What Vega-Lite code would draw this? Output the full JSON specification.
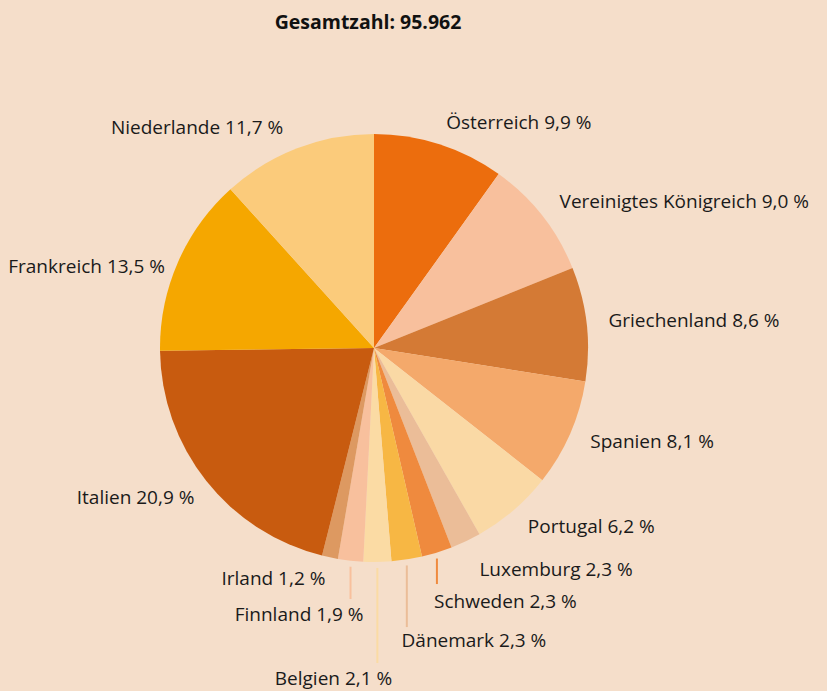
{
  "$schema": "https://vega.github.io/schema/vega-lite/v6.json",
  "width": 748,
  "height": 614,
  "autosize": {"type": "none"},
  "padding": {"left": 0, "top": 41, "right": 79, "bottom": 36},
  "background": "#F5DECA",
  "title": {"text": "Gesamtzahl: 95.962", "font": "Open Sans", "fontSize": 19.5, "fontWeight": "bold", "color": "#111111", "anchor": "middle", "dx": -6, "dy": 23, "offset": 12, "baseline": "bottom"},
  "config": {"view": {"stroke": null}, "text": {"font": "Open Sans", "fontSize": 19, "color": "#1a1a1a", "baseline": "middle"}},
  "data": {"values": [
    {"idx": 1, "land": "Österreich", "pct": 9.9, "label": "Österreich 9,9 %"},
    {"idx": 2, "land": "Vereinigtes Königreich", "pct": 9.0, "label": "Vereinigtes Königreich 9,0 %"},
    {"idx": 3, "land": "Griechenland", "pct": 8.6, "label": "Griechenland 8,6 %"},
    {"idx": 4, "land": "Spanien", "pct": 8.1, "label": "Spanien 8,1 %"},
    {"idx": 5, "land": "Portugal", "pct": 6.2, "label": "Portugal 6,2 %"},
    {"idx": 6, "land": "Luxemburg", "pct": 2.3, "label": "Luxemburg 2,3 %"},
    {"idx": 7, "land": "Schweden", "pct": 2.3, "label": "Schweden 2,3 %"},
    {"idx": 8, "land": "Dänemark", "pct": 2.3, "label": "Dänemark 2,3 %"},
    {"idx": 9, "land": "Belgien", "pct": 2.1, "label": "Belgien 2,1 %"},
    {"idx": 10, "land": "Finnland", "pct": 1.9, "label": "Finnland 1,9 %"},
    {"idx": 11, "land": "Irland", "pct": 1.2, "label": "Irland 1,2 %"},
    {"idx": 12, "land": "Italien", "pct": 20.9, "label": "Italien 20,9 %"},
    {"idx": 13, "land": "Frankreich", "pct": 13.5, "label": "Frankreich 13,5 %"},
    {"idx": 14, "land": "Niederlande", "pct": 11.7, "label": "Niederlande 11,7 %"}
  ]},
  "transform": [
    {"window": [{"op": "sum", "field": "pct", "as": "cum"}], "sort": [{"field": "idx"}], "frame": [null, 0]},
    {"calculate": "datum.cum - datum.pct", "as": "start"},
    {"calculate": "datum.cum - datum.pct / 2", "as": "mid"},
    {"calculate": "sin(datum.mid / 100 * 2 * PI)", "as": "sx"},
    {"calculate": "cos(datum.mid / 100 * 2 * PI) - 0.028", "as": "cy"}
  ],
  "layer": [
    {
      "mark": {"type": "arc", "radius": 214},
      "encoding": {
        "theta": {"field": "start", "type": "quantitative", "stack": null, "scale": {"domain": [0, 100]}},
        "theta2": {"field": "cum"},
        "color": {"field": "land", "type": "nominal", "legend": null,
          "scale": {
            "domain": ["Österreich", "Vereinigtes Königreich", "Griechenland", "Spanien", "Portugal", "Luxemburg", "Schweden", "Dänemark", "Belgien", "Finnland", "Irland", "Italien", "Frankreich", "Niederlande"],
            "range": ["#EC6D0D", "#F8C09D", "#D47A35", "#F4A96B", "#FAD9A5", "#EBBD98", "#EF8A3E", "#F7B744", "#FBDBA4", "#F8C09D", "#DD9961", "#C85B0F", "#F5A700", "#FBCB7B"]
          }}
      }
    },
    {
      "transform": [{"filter": {"field": "land", "oneOf": ["Österreich", "Vereinigtes Königreich", "Griechenland", "Spanien", "Portugal"]}}],
      "mark": {"type": "text", "radius": 236, "align": "left"},
      "encoding": {"theta": {"field": "mid", "type": "quantitative", "stack": null, "scale": {"domain": [0, 100]}}, "text": {"field": "label"}}
    },
    {
      "transform": [{"filter": {"field": "land", "equal": "Irland"}}],
      "mark": {"type": "text", "radius": 236, "align": "right"},
      "encoding": {"theta": {"field": "mid", "type": "quantitative", "stack": null, "scale": {"domain": [0, 100]}}, "text": {"field": "label"}}
    },
    {
      "transform": [{"filter": {"field": "land", "equal": "Niederlande"}}],
      "mark": {"type": "text", "radius": 236, "align": "right", "dx": -6},
      "encoding": {"theta": {"field": "mid", "type": "quantitative", "stack": null, "scale": {"domain": [0, 100]}}, "text": {"field": "label"}}
    },
    {
      "transform": [{"filter": {"field": "land", "equal": "Italien"}}],
      "mark": {"type": "text", "radius": 229, "align": "right", "dy": 8},
      "encoding": {"theta": {"field": "mid", "type": "quantitative", "stack": null, "scale": {"domain": [0, 100]}}, "text": {"field": "label"}}
    },
    {
      "transform": [{"filter": {"field": "land", "equal": "Frankreich"}}],
      "mark": {"type": "text", "radius": 228, "align": "right", "dy": 10},
      "encoding": {"theta": {"field": "mid", "type": "quantitative", "stack": null, "scale": {"domain": [0, 100]}}, "text": {"field": "label"}}
    },
    {
      "transform": [{"filter": {"field": "land", "equal": "Luxemburg"}}],
      "mark": {"type": "text", "radius": 246, "align": "left"},
      "encoding": {"theta": {"field": "mid", "type": "quantitative", "stack": null, "scale": {"domain": [0, 100]}}, "text": {"field": "label"}}
    },
    {
      "transform": [{"filter": {"field": "land", "equal": "Schweden"}}],
      "layer": [
        {
          "mark": {"type": "rule", "color": "#EF8A3E", "strokeWidth": 2},
          "encoding": {
            "x": {"field": "sx", "type": "quantitative", "scale": {"domain": [-1.74766, 1.74766], "nice": false, "zero": false}, "axis": null},
            "y": {"field": "cy", "type": "quantitative", "scale": {"domain": [-1.43458, 1.43458], "nice": false, "zero": false}, "axis": null},
            "y2": {"datum": -1.103}
          }
        },
        {
          "mark": {"type": "text", "radius": 262, "align": "left", "dx": -17, "dy": 4},
          "encoding": {"theta": {"field": "mid", "type": "quantitative", "stack": null, "scale": {"domain": [0, 100]}}, "text": {"field": "label"}}
        }
      ]
    },
    {
      "transform": [{"filter": {"field": "land", "equal": "Dänemark"}}],
      "layer": [
        {
          "mark": {"type": "rule", "color": "#EBBD98", "strokeWidth": 2},
          "encoding": {
            "x": {"field": "sx", "type": "quantitative", "scale": {"domain": [-1.74766, 1.74766], "nice": false, "zero": false}, "axis": null},
            "y": {"field": "cy", "type": "quantitative", "scale": {"domain": [-1.43458, 1.43458], "nice": false, "zero": false}, "axis": null},
            "y2": {"datum": -1.304}
          }
        },
        {
          "mark": {"type": "text", "radius": 297, "align": "left", "dx": -18},
          "encoding": {"theta": {"field": "mid", "type": "quantitative", "stack": null, "scale": {"domain": [0, 100]}}, "text": {"field": "label"}}
        }
      ]
    },
    {
      "transform": [{"filter": {"field": "land", "equal": "Belgien"}}],
      "layer": [
        {
          "mark": {"type": "rule", "color": "#FBDBA4", "strokeWidth": 2},
          "encoding": {
            "x": {"field": "sx", "type": "quantitative", "scale": {"domain": [-1.74766, 1.74766], "nice": false, "zero": false}, "axis": null},
            "y": {"field": "cy", "type": "quantitative", "scale": {"domain": [-1.43458, 1.43458], "nice": false, "zero": false}, "axis": null},
            "y2": {"datum": -1.472}
          }
        },
        {
          "mark": {"type": "text", "radius": 331, "align": "right", "dx": 13},
          "encoding": {"theta": {"field": "mid", "type": "quantitative", "stack": null, "scale": {"domain": [0, 100]}}, "text": {"field": "label"}}
        }
      ]
    },
    {
      "transform": [{"filter": {"field": "land", "equal": "Finnland"}}],
      "layer": [
        {
          "mark": {"type": "rule", "color": "#F8C09D", "strokeWidth": 2},
          "encoding": {
            "x": {"field": "sx", "type": "quantitative", "scale": {"domain": [-1.74766, 1.74766], "nice": false, "zero": false}, "axis": null},
            "y": {"field": "cy", "type": "quantitative", "scale": {"domain": [-1.43458, 1.43458], "nice": false, "zero": false}, "axis": null},
            "y2": {"datum": -1.173}
          }
        },
        {
          "mark": {"type": "text", "radius": 269, "align": "right", "dx": 19},
          "encoding": {"theta": {"field": "mid", "type": "quantitative", "stack": null, "scale": {"domain": [0, 100]}}, "text": {"field": "label"}}
        }
      ]
    }
  ]
}
